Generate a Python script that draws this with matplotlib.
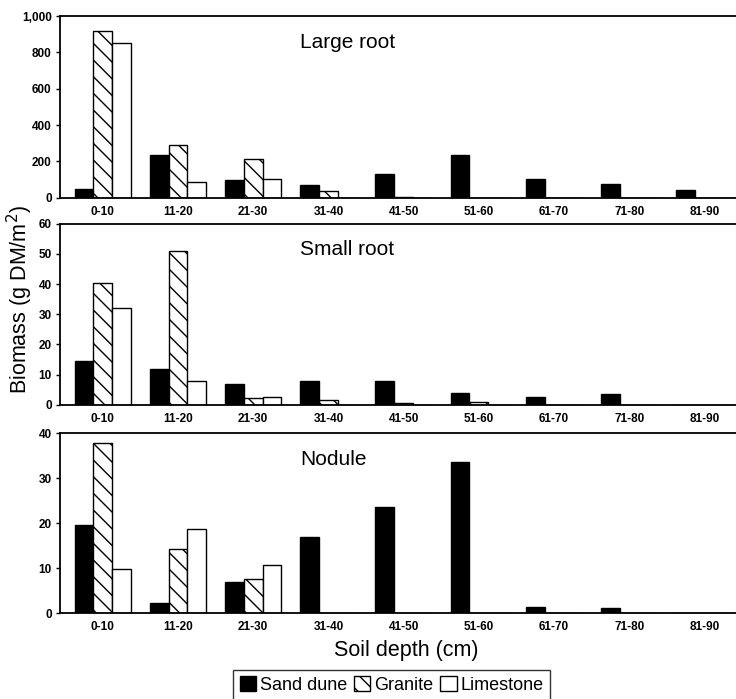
import numpy as np
import matplotlib
matplotlib.use("Agg")
import matplotlib.pyplot as plt
from matplotlib.patches import Patch
from matplotlib.ticker import FuncFormatter

plt.rcParams['font.family'] = ['Liberation Sans', 'DejaVu Sans']
plt.rcParams['hatch.linewidth'] = 1.0

depths = ['0-10', '11-20', '21-30', '31-40', '41-50', '51-60', '61-70', '71-80', '81-90']
sites = ['Sand dune', 'Granite', 'Limestone']

# Large root biomass (g DM/m2)
large_sand = [47, 237, 99, 72, 130, 235, 105, 75, 45]
large_granite = [917, 288, 215, 38, 5, 0, 0, 0, 0]
large_lime = [851, 86, 106, 0, 0, 0, 0, 0, 0]

# Small root biomass
small_sand = [14.4, 12.0, 6.9, 7.7, 7.7, 3.8, 2.7, 3.7, 0]
small_granite = [40.2, 51.1, 2.2, 1.7, 0.5, 0.9, 0, 0, 0]
small_lime = [32.1, 8.0, 2.7, 0, 0, 0, 0, 0, 0]

# Nodule biomass
nod_sand = [19.5, 2.2, 6.8, 16.9, 23.6, 33.6, 1.3, 1.2, 0]
nod_granite = [37.9, 14.2, 7.6, 0.1, 0, 0, 0, 0, 0]
nod_lime = [9.8, 18.8, 10.7, 0, 0, 0, 0, 0, 0]

panels = [
    ('Large root', [large_sand, large_granite, large_lime], 1000, [0, 200, 400, 600, 800, 1000]),
    ('Small root', [small_sand, small_granite, small_lime], 60, [0, 10, 20, 30, 40, 50, 60]),
    ('Nodule', [nod_sand, nod_granite, nod_lime], 40, [0, 10, 20, 30, 40]),
]

fills = ['black', 'white', 'white']
hatches = [None, '\\\\', None]

fig = plt.figure(figsize=(7.36, 6.99), dpi=100)
boxes = [(0.0815, 0.717, 0.9185, 0.260),
         (0.0815, 0.421, 0.9185, 0.259),
         (0.0815, 0.123, 0.9185, 0.257)]

x = np.arange(len(depths))
w = 0.25
for (title, series, ymax, yticks), box in zip(panels, boxes):
    ax = fig.add_axes(box)
    for i, vals in enumerate(series):
        ax.bar(x + (i - 1) * w, vals, w, color=fills[i], edgecolor='black',
               linewidth=1.0, hatch=hatches[i])
    ax.set_xlim(-0.57, 8.42)
    ax.set_ylim(0, ymax)
    ax.set_yticks(yticks)
    ax.yaxis.set_major_formatter(FuncFormatter(lambda v, p: f'{int(v):,}'))
    ax.set_xticks(x)
    ax.set_xticklabels(depths)
    ax.tick_params(axis='x', length=0, pad=6, labelsize=8.5)
    ax.tick_params(axis='y', length=3, width=1, pad=3, labelsize=8.5)
    for lab in ax.get_xticklabels() + ax.get_yticklabels():
        lab.set_fontweight('bold')
    ax.spines['right'].set_visible(False)
    for s in ['top', 'left', 'bottom']:
        ax.spines[s].set_linewidth(1.3)
    ax.text(0.355, 0.855, title, transform=ax.transAxes, fontsize=15,
            va='center', ha='left')

fig.text(0.027, 0.572, 'Biomass (g DM/m$^2$)', rotation=90, fontsize=15.5,
         va='center', ha='center')
fig.text(0.552, 0.07, 'Soil depth (cm)', fontsize=15.5, va='center', ha='center')

handles = [Patch(facecolor=fills[i], edgecolor='black', hatch=hatches[i], linewidth=1.0)
           for i in range(3)]
leg = fig.legend(handles, sites, loc='center', bbox_to_anchor=(0.532, 0.02), ncol=3,
                 fontsize=13, frameon=True, fancybox=False, edgecolor='black',
                 handlelength=0.9, handleheight=0.9, handletextpad=0.2,
                 columnspacing=0.4, borderpad=0.35, borderaxespad=0)
leg.get_frame().set_linewidth(1.0)

fig.savefig('out.png', dpi=100)
